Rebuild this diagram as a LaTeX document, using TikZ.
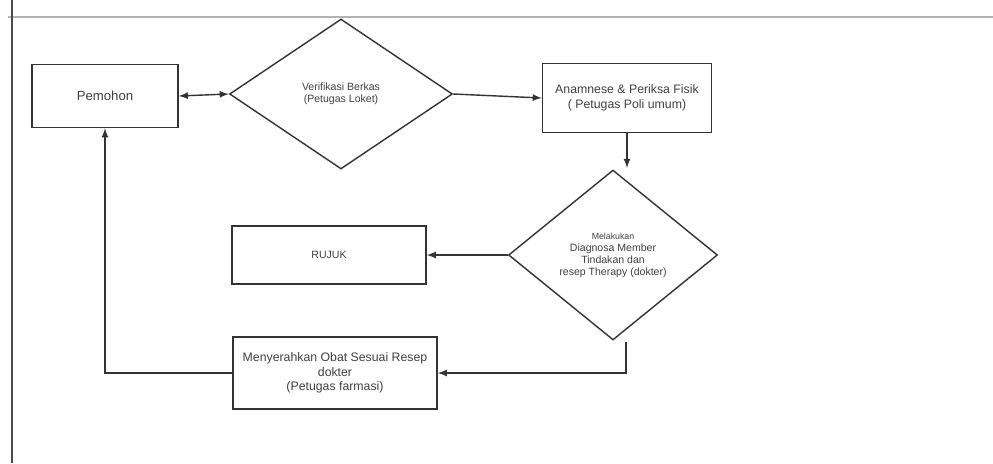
\documentclass[tikz,border=0pt]{standalone}
\usepackage{fontspec}
\setmainfont{Liberation Sans}
\usepackage{tikz}
\usetikzlibrary{arrows,shapes.geometric}

\begin{document}
\begin{tikzpicture}[x=0.02cm,y=-0.02cm]
\tikzstyle{garis} = [draw=black!80, line width=0.8pt]
\tikzstyle{proses} = [garis, rectangle, fill=white, text=black!75, align=center, inner sep=1pt, font=\fontsize{7}{8.2}\selectfont]
\tikzstyle{keputusan} = [garis, diamond, fill=white, text=black!75, align=center, inner sep=0pt, font=\fontsize{6}{6.8}\selectfont]
\tikzstyle{panah} = [garis, -latex]
\useasboundingbox (0,0) rectangle (993,463);
% bingkai halaman
\draw[black!30, line width=1.6pt] (8,17) -- (993,17);
\draw[black!70, line width=0.6pt] (12,0) -- (12,463);
% simpul
\node[proses, minimum width=2.92cm, minimum height=1.26cm, font=\fontsize{7.5}{9}\selectfont] (pem) at (105,96) {Pemohon};
\node[keputusan, minimum width=4.46cm, minimum height=3cm] (ver) at (341,94) {Verifikasi Berkas\\(Petugas Loket)};
\node[proses, minimum width=3.38cm, minimum height=1.38cm] (anam) at (627,98) {Anamnese \& Periksa Fisik\\( Petugas Poli umum)};
\node[keputusan, minimum width=4.18cm, minimum height=3.4cm] (diag) at (613,255) {{\fontsize{5}{6.8}\selectfont Melakukan}\\Diagnosa Member\\Tindakan dan\\resep Therapy (dokter)};
\node[proses, minimum width=3.88cm, minimum height=1.16cm, font=\fontsize{6}{7}\selectfont] (rujuk) at (329,255) {RUJUK};
\node[proses, minimum width=4.08cm, minimum height=1.44cm] (serah) at (335,373) {Menyerahkan Obat Sesuai Resep\\dokter\\(Petugas farmasi)};
\coordinate (ujung) at (627,168);
\coordinate (pangkal) at (626,342);
% panah
\draw[panah, latex-latex] (pem.east) -- (ver.west);
\draw[panah] (ver.east) -- (anam.west);
\draw[panah] (anam.south) -- (ujung);
\draw[panah] (diag.west) -- (rujuk.east);
\draw[panah] (pangkal) |- (serah.east);
\draw[panah] (serah.west) -| (pem.south);
\end{tikzpicture}
\end{document}
